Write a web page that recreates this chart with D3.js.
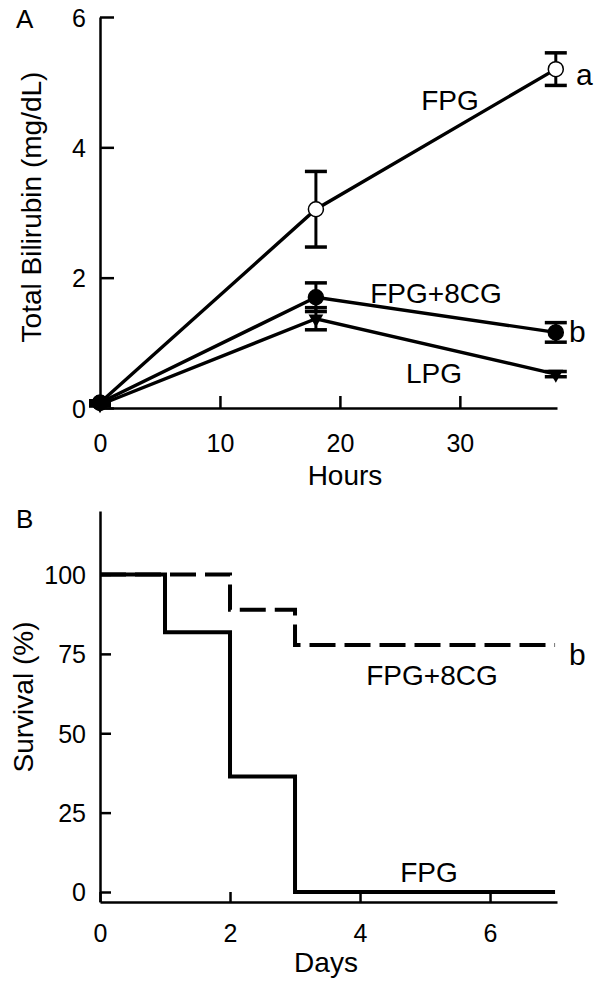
<!DOCTYPE html>
<html><head><meta charset="utf-8">
<script src="https://cdn.jsdelivr.net/npm/d3@7"></script>
<style>
body{margin:0;background:#fff;}
svg{display:block;font-family:"Liberation Sans",Arial,sans-serif;}
</style></head>
<body>
<svg id="c" width="600" height="985"></svg>
<script>
// Panel A data
const hours = [0, 18, 38];
const fpgBili = [0.08, 3.05, 5.2];
const fpgBiliErr = [0.03, 0.58, 0.25];
const cgBili = [0.08, 1.70, 1.16];
const cgBiliErr = [0.03, 0.22, 0.15];
const lpgBili = [0.05, 1.37, 0.52];
const lpgBiliErr = [0.02, 0.17, 0.04];
const biliTicks = [0, 2, 4, 6];
const hourTicks = [0, 10, 20, 30];

// Panel B data
const fpgDays = [0, 1, 2, 3, 7];
const fpgSurv = [100, 81.8, 36.4, 0, 0];
const cgDays = [0, 2, 3, 7];
const cgSurv = [100, 88.9, 77.8, 77.8];
const survTicks = [0, 25, 50, 75, 100];
const dayTicks = [0, 2, 4, 6];

const svg = d3.select("#c");
svg.append("rect").attr("width",600).attr("height",985).attr("fill","#fff");
const fmt = d3.format("d");

// ---------- Panel A ----------
const xA = d3.scaleLinear().domain([0, 38.1]).range([100, 557]);
const yA = d3.scaleLinear().domain([0, 6]).range([408, 17]);

const gA = svg.append("g");
const axXA = gA.append("g").attr("transform","translate(0,408)")
  .call(d3.axisBottom(xA).tickValues(hourTicks).tickFormat(fmt).tickSize(-12).tickPadding(26).tickSizeOuter(0));
const axYA = gA.append("g").attr("transform","translate(100,0)")
  .call(d3.axisLeft(yA).tickValues(biliTicks).tickFormat(fmt).tickSize(-14).tickPadding(14).tickSizeOuter(0));
[axXA, axYA].forEach(a=>{
  a.select(".domain").attr("stroke","#000").attr("stroke-width",2.5);
  a.selectAll(".tick line").attr("stroke","#000").attr("stroke-width",2.5);
  a.selectAll(".tick text").attr("font-size",25).attr("fill","#000").attr("font-family","Liberation Sans, Arial, sans-serif");
});
axYA.selectAll(".tick text").attr("dy","0.36em");

const seriesA = [
  {v: fpgBili, e: fpgBiliErr, m: "open"},
  {v: cgBili, e: cgBiliErr, m: "filled"},
  {v: lpgBili, e: lpgBiliErr, m: "tri"}
];
const lineA = d3.line().x((d,i)=>xA(hours[i])).y(d=>yA(d));
seriesA.forEach(s=>{
  s.v.forEach((v,i)=>{
    const x = xA(hours[i]);
    const g = gA.append("g").attr("stroke","#000").attr("stroke-width",3);
    g.append("line").attr("x1",x).attr("x2",x).attr("y1",yA(v-s.e[i])).attr("y2",yA(v+s.e[i]));
    g.append("line").attr("x1",x-11).attr("x2",x+11).attr("y1",yA(v-s.e[i])).attr("y2",yA(v-s.e[i])).attr("stroke-width",3.5);
    g.append("line").attr("x1",x-11).attr("x2",x+11).attr("y1",yA(v+s.e[i])).attr("y2",yA(v+s.e[i])).attr("stroke-width",3.5);
  });
});
seriesA.forEach(s=>{
  gA.append("path").attr("d",lineA(s.v)).attr("fill","none").attr("stroke","#000").attr("stroke-width",3.4);
});
seriesA.forEach(s=>{
  s.v.forEach((v,i)=>{
    const x = xA(hours[i]), y = yA(v);
    if (s.m === "tri") {
      gA.append("path").attr("d", d3.symbol().type(d3.symbolTriangle).size(95)())
        .attr("transform",`translate(${x},${y}) rotate(180)`).attr("fill","#000");
    } else {
      gA.append("circle").attr("cx",x).attr("cy",y).attr("r",7.5)
        .attr("fill", s.m==="open" ? "#fff" : "#000").attr("stroke","#000").attr("stroke-width",1.5);
    }
  });
});
const txt = (x,y,t,opt={})=>{
  const e = svg.append("text").attr("x",x).attr("y",y).text(t)
    .attr("font-size",opt.size||28).attr("fill","#000")
    .attr("text-anchor",opt.anchor||"middle");
  if (opt.rot) e.attr("transform",`rotate(-90,${x},${y})`);
  return e;
};
txt(16,28,"A",{anchor:"start",size:26});
txt(450,110,"FPG");
txt(576,85,"a",{anchor:"start",size:30});
txt(436,303,"FPG+8CG");
txt(569,342,"b",{anchor:"start",size:30});
txt(434,383,"LPG");
txt(345,485,"Hours");
txt(41,207,"Total Bilirubin (mg/dL)",{rot:true});

// ---------- Panel B ----------
const xB = d3.scaleLinear().domain([0, 7.03]).range([100, 557]);
const yB = d3.scaleLinear().domain([-3.15, 120]).range([902, 511]);
const gB = svg.append("g");
const axXB = gB.append("g").attr("transform","translate(0,902)")
  .call(d3.axisBottom(xB).tickValues(dayTicks).tickFormat(fmt).tickSize(-10).tickPadding(22).tickSizeOuter(0));
const axYB = gB.append("g").attr("transform","translate(100,0)")
  .call(d3.axisLeft(yB).tickValues(survTicks).tickFormat(fmt).tickSize(-11).tickPadding(14).tickSizeOuter(0));
[axXB, axYB].forEach(a=>{
  a.select(".domain").attr("stroke","#000").attr("stroke-width",2.5);
  a.selectAll(".tick line").attr("stroke","#000").attr("stroke-width",2.5);
  a.selectAll(".tick text").attr("font-size",25).attr("fill","#000").attr("font-family","Liberation Sans, Arial, sans-serif");
});
axYB.selectAll(".tick text").attr("dy","0.36em");

const stepB = d3.line().curve(d3.curveStepAfter);
gB.append("path").attr("d", stepB(cgDays.map((d,i)=>[xB(d), yB(cgSurv[i])])))
  .attr("fill","none").attr("stroke","#000").attr("stroke-width",4).attr("stroke-dasharray","26,9");
gB.append("path").attr("d", stepB(fpgDays.map((d,i)=>[xB(d), yB(fpgSurv[i])])))
  .attr("fill","none").attr("stroke","#000").attr("stroke-width",4);

txt(16,528,"B",{anchor:"start",size:26});
txt(432,685,"FPG+8CG");
txt(569,665,"b",{anchor:"start",size:30});
txt(429,882,"FPG");
txt(326,972,"Days");
txt(33,697,"Survival (%)",{rot:true});
</script>
</body></html>
